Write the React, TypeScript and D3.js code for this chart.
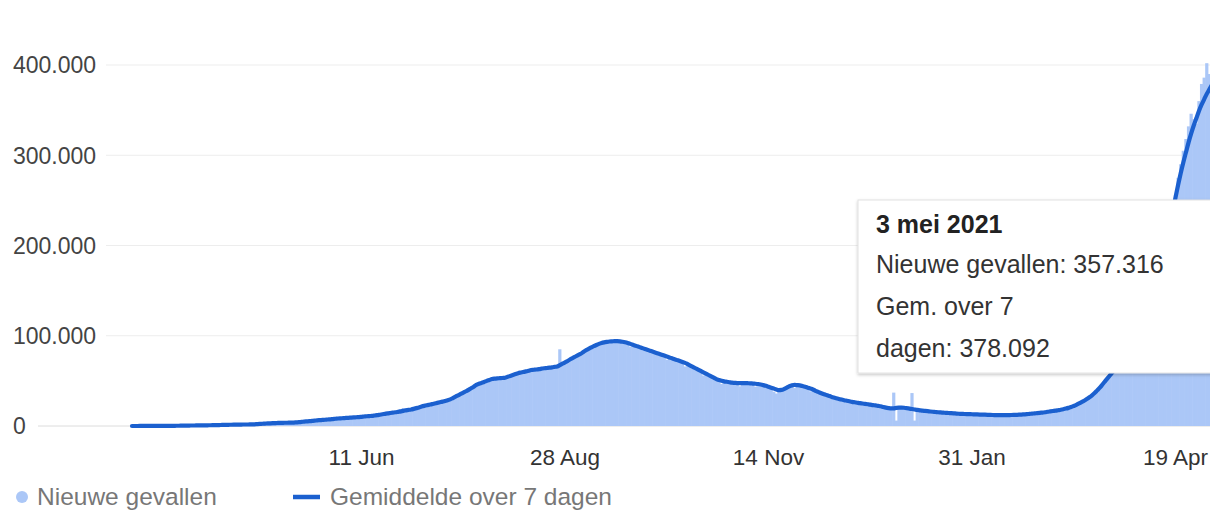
import React from "react";
import * as d3 from "d3";

// ---- data (values in thousands) ----
const START_DATE = Date.UTC(2020, 2, 15); // 15 Mar 2020
const DAY_MS = 86400000;

const dailyCases = [
  // Mar 2020 (15-31)
  0.01,0.02,0.01,0.03,0.04,0.05,0.08,0.07,0.08,0.09,0.08,0.1,0.15,0.1,0.12,0.2,0.3,
  // Apr
  0.4,0.5,0.6,0.5,0.5,0.6,0.6,0.5,0.8,0.7,0.9,0.8,1.0,0.8,1.1,1.0,1.3,1.5,1.2,1.3,1.4,1.6,1.5,1.7,1.8,1.6,1.5,1.8,1.9,1.8,
  // May
  2.0,2.6,3.6,2.9,3.1,3.3,3.3,3.0,3.5,4.2,3.6,3.5,3.6,3.9,3.8,4.9,5.1,4.6,5.6,5.6,6.2,6.1,6.6,6.5,6.5,6.4,6.6,7.3,8.0,8.4,8.8,
  // Jun
  8.2,8.0,9.3,9.8,9.5,9.9,9.9,10.4,9.9,9.9,11.0,11.5,11.0,11.3,11.9,10.7,11.1,12.9,13.6,14.5,15.4,14.8,14.9,16.0,17.0,18.5,19.9,19.6,19.4,18.6,
  // Jul
  19.2,20.5,20.9,21.8,22.6,22.5,23.2,24.6,25.3,25.9,26.8,27.2,27.5,28.9,30.1,31.6,33.2,34.5,35.0,37.5,39.2,41.0,42.5,44.4,46.0,46.5,47.3,49.5,50.8,51.6,52.8,
  // Aug
  53.2,52.4,52.6,53.8,54.3,55.2,56.1,57.3,58.0,58.1,59.8,60.6,61.2,61.9,62.4,61.8,62.1,63.7,64.2,64.9,65.0,64.1,65.6,66.2,66.5,85.0,69.8,71.2,72.9,74.8,76.0,
  // Sep
  77.8,79.2,80.9,82.7,84.9,86.2,87.8,87.6,90.6,91.9,92.8,93.5,94.1,94.4,93.1,94.9,95.0,94.5,93.0,93.6,91.2,88.0,90.7,89.6,88.5,86.4,86.8,85.6,81.5,83.7,
  // Oct
  82.8,81.6,80.7,79.5,78.6,73.5,76.8,75.9,74.6,73.8,72.5,71.6,66.0,69.2,67.8,66.1,64.6,63.2,61.5,56.0,58.7,57.1,55.6,54.2,52.6,51.5,46.5,50.0,49.6,49.0,48.5,
  // Nov
  48.2,47.9,44.0,47.9,48.0,47.8,47.7,47.4,43.6,46.9,46.4,45.8,44.9,44.0,42.9,38.0,36.0,40.2,40.5,41.6,43.1,44.6,45.4,42.0,45.8,45.5,44.8,43.9,42.9,38.5,
  // Dec
  40.9,39.4,38.3,37.0,35.9,34.9,33.9,30.5,32.0,31.2,30.4,29.7,29.0,28.4,25.5,27.2,26.7,26.2,25.7,25.3,24.9,22.0,24.1,23.6,23.2,22.7,22.2,19.8,20.7,20.2,19.9,
  // Jan 2021
  37.0,6.0,20.6,20.8,20.6,20.2,19.7,36.5,6.0,18.2,17.8,17.4,17.1,16.8,16.5,16.2,15.9,15.6,15.4,15.2,15.0,14.8,14.6,14.4,14.2,14.0,13.8,13.7,13.6,13.5,13.4,
  // Feb
  13.2,12.2,13.0,12.9,12.8,12.7,12.6,11.5,12.4,12.3,12.3,12.3,12.3,12.4,11.6,12.6,12.7,12.8,13.0,13.2,13.4,12.8,14.0,14.3,14.6,14.9,15.2,15.5,
  // Mar
  15.2,16.6,17.0,17.4,17.9,18.4,19.0,18.5,20.6,21.5,22.8,24.1,25.6,27.2,28.8,28.5,32.6,34.9,37.5,40.6,43.7,47.3,47.0,54.5,58.1,61.7,64.8,67.9,66.0,74.0,77.2,
  // Apr
  81,85,90,95,93,107,115,124,133,144,152,160,178,191,204,218,233,250,256,275,290,305,318,332,346,340,335,360,379,386,
  // May (1-3)
  402,390,357.316,
];

const avg7 = [
  // Mar 2020
  0.02,0.02,0.02,0.03,0.03,0.04,0.05,0.05,0.06,0.07,0.08,0.09,0.1,0.11,0.13,0.15,0.2,
  // Apr
  0.25,0.3,0.35,0.4,0.45,0.5,0.55,0.58,0.62,0.65,0.7,0.75,0.8,0.85,0.9,0.95,1.0,1.1,1.2,1.3,1.35,1.4,1.45,1.5,1.6,1.62,1.65,1.68,1.7,1.75,
  // May
  1.9,2.1,2.3,2.5,2.7,2.9,3.0,3.1,3.2,3.4,3.5,3.55,3.6,3.65,3.7,3.8,4.0,4.2,4.5,4.9,5.1,5.3,5.6,5.9,6.3,6.5,6.7,6.9,7.2,7.4,7.7,
  // Jun
  8.0,8.3,8.5,8.7,8.9,9.1,9.3,9.5,9.7,9.9,10.2,10.5,10.8,11.0,11.2,11.6,12.0,12.5,13.0,13.5,14.0,14.4,14.8,15.2,15.7,16.2,16.8,17.3,17.8,18.3,
  // Jul
  19.0,19.8,20.6,21.5,22.3,23.0,23.6,24.2,24.9,25.6,26.3,27.0,27.8,28.6,29.5,31.0,32.5,34.0,35.5,37.0,38.5,40.0,41.8,43.6,45.5,46.8,47.8,48.8,50.0,51.0,52.0,
  // Aug
  52.5,52.8,53.0,53.2,53.5,54.5,55.5,56.5,57.5,58.5,59.2,59.8,60.5,61.2,62.0,62.3,62.6,63.0,63.5,64.0,64.3,64.6,65.0,65.5,66.0,67.5,69.0,70.5,72.0,74.0,75.5,
  // Sep
  77.0,78.5,80.0,82.0,84.0,85.5,87.0,88.5,89.8,91.0,92.0,92.7,93.2,93.6,93.8,94.0,94.0,93.8,93.4,92.8,92.0,91.0,90.0,89.0,88.0,87.0,86.0,85.0,84.0,83.0,
  // Oct
  82.0,81.0,80.0,79.0,78.0,77.0,76.0,75.0,74.0,73.0,72.0,71.0,70.0,68.5,67.0,65.5,64.0,62.5,61.0,59.5,58.0,56.5,55.0,53.5,52.0,51.0,50.2,49.5,49.0,48.5,48.0,
  // Nov
  47.8,47.6,47.5,47.5,47.5,47.4,47.3,47.0,46.8,46.5,46.0,45.3,44.5,43.5,42.5,41.5,40.5,39.8,40.0,41.0,42.5,44.0,45.0,45.5,45.3,45.0,44.3,43.5,42.5,41.5,
  // Dec
  40.5,39.0,37.8,36.6,35.5,34.5,33.5,32.5,31.6,30.8,30.0,29.3,28.6,28.0,27.4,26.8,26.3,25.8,25.3,24.9,24.5,24.1,23.7,23.2,22.8,22.3,21.8,21.0,20.3,19.8,19.5,
  // Jan 2021
  19.6,20.0,20.3,20.4,20.2,19.8,19.3,18.8,18.3,17.8,17.4,17.0,16.7,16.4,16.1,15.8,15.5,15.2,15.0,14.8,14.6,14.4,14.2,14.0,13.8,13.6,13.4,13.3,13.2,13.1,13.0,
  // Feb
  12.9,12.8,12.7,12.6,12.5,12.4,12.3,12.2,12.1,12.0,12.0,12.0,12.0,12.1,12.2,12.3,12.4,12.5,12.7,12.9,13.1,13.4,13.7,14.0,14.3,14.6,14.9,15.2,
  // Mar
  15.8,16.2,16.6,17.0,17.5,18.0,18.6,19.3,20.1,21.0,22.2,23.5,25.0,26.5,28.0,29.8,31.8,34.0,36.5,39.5,42.5,46.0,49.5,53.0,56.5,60.0,63.0,66.0,69.0,72.0,75.0,
  // Apr
  78,82,87,92,97,103,110,118,127,137,148,160,172,184,197,210,224,238,253,267,280,292,303,314,324,333,341,349,356,362,
  // May (1-3)
  368,373,378.092,
];

const xTickDates = ["2020-06-11", "2020-08-28", "2020-11-14", "2021-01-31", "2021-04-19"];
const xTickLabels = ["11 Jun", "28 Aug", "14 Nov", "31 Jan", "19 Apr"];
const yTicks = [0, 100, 200, 300, 400];
const seriesNames = ["Nieuwe gevallen", "Gemiddelde over 7 dagen"];
const tooltipTitle = "3 mei 2021";
const tooltipLabels = ["Nieuwe gevallen: ", "Gem. over 7", "dagen: "];

const BAR_COLOR = "#abc7f7";
const LINE_COLOR = "#1b60cf";
const FONT = "'Liberation Sans', Arial, Helvetica, sans-serif";

export default function App() {
  const W = 1210;
  const H = 510;
  const n = Math.min(dailyCases.length, avg7.length);
  const dates = d3.range(n).map((i) => new Date(START_DATE + i * DAY_MS));

  const x = d3.scaleUtc().domain([dates[0], dates[n - 1]]).range([132, 1212]);
  const y = d3.scaleLinear().domain([0, 400]).range([426, 65]);
  const step = x(dates[1]) - x(dates[0]);

  const nl = d3.formatLocale({ decimal: ",", thousands: ".", grouping: [3], currency: ["€", ""] });
  const fmt = nl.format(",.0f");

  const line = d3
    .line<number>()
    .x((_, i) => x(dates[i]))
    .y((v) => y(v))
    .curve(d3.curveMonotoneX);

  const linePath = line(avg7.slice(0, n)) || "";
  const last = n - 1;

  return (
    <svg
      width={W}
      height={H}
      viewBox={`0 0 ${W} ${H}`}
      style={{ position: "absolute", left: 0, top: 0, background: "#fff" }}
      fontFamily={FONT}
    >
      <defs>
        <filter id="tipShadow" x="-10%" y="-10%" width="130%" height="130%">
          <feDropShadow dx="0" dy="1.5" stdDeviation="1.8" floodColor="#000" floodOpacity="0.22" />
        </filter>
      </defs>

      {/* gridlines */}
      {yTicks.map((t) => (
        <line
          key={"g" + t}
          x1={t === 0 ? 38 : 106}
          x2={W}
          y1={y(t)}
          y2={y(t)}
          stroke={t === 0 ? "#dcdcdc" : "#ededed"}
          strokeWidth={1}
        />
      ))}

      {/* y labels */}
      {yTicks.map((t) => (
        <text key={"y" + t} x={13} y={y(t)} dy="0.36em" fontSize={23} fill="#444">
          {fmt(t * 1000)}
        </text>
      ))}

      {/* bars */}
      <g fill={BAR_COLOR}>
        {dailyCases.slice(0, n).map((v, i) => {
          const cx = x(dates[i]);
          const yy = y(v);
          return (
            <rect
              key={i}
              x={cx - step / 2 - 0.3}
              width={step + 0.6}
              y={yy}
              height={Math.max(0, y(0) - yy)}
            />
          );
        })}
      </g>

      {/* 7-day average line */}
      <path
        d={linePath}
        fill="none"
        stroke={LINE_COLOR}
        strokeWidth={4.2}
        strokeLinejoin="round"
        strokeLinecap="round"
      />

      {/* x labels */}
      {xTickDates.map((ds, i) => {
        const d = new Date(ds + "T00:00:00Z");
        return (
          <text key={ds} x={x(d)} y={465} textAnchor="middle" fontSize={22.5} fill="#333">
            {xTickLabels[i]}
          </text>
        );
      })}

      {/* legend */}
      <circle cx={22} cy={497} r={6} fill={BAR_COLOR} />
      <text x={37} y={505} fontSize={24.5} fill="#777">
        {seriesNames[0]}
      </text>
      <line x1={293} x2={320} y1={497} y2={497} stroke={LINE_COLOR} strokeWidth={4.5} />
      <text x={330} y={505} fontSize={24.5} fill="#777">
        {seriesNames[1]}
      </text>

      {/* tooltip */}
      <g>
        <rect
          x={858}
          y={200}
          width={420}
          height={173}
          fill="#fff"
          stroke="#e2e2e2"
          strokeWidth={1}
          filter="url(#tipShadow)"
        />
        <text x={876} y={233} fontSize={25} fontWeight="bold" fill="#222">
          {tooltipTitle}
        </text>
        <text x={876} y={273} fontSize={25} fill="#333">
          {tooltipLabels[0] + fmt(dailyCases[last] * 1000)}
        </text>
        <text x={876} y={315} fontSize={25} fill="#333">
          {tooltipLabels[1]}
        </text>
        <text x={876} y={357} fontSize={25} fill="#333">
          {tooltipLabels[2] + fmt(avg7[last] * 1000)}
        </text>
      </g>
    </svg>
  );
}
